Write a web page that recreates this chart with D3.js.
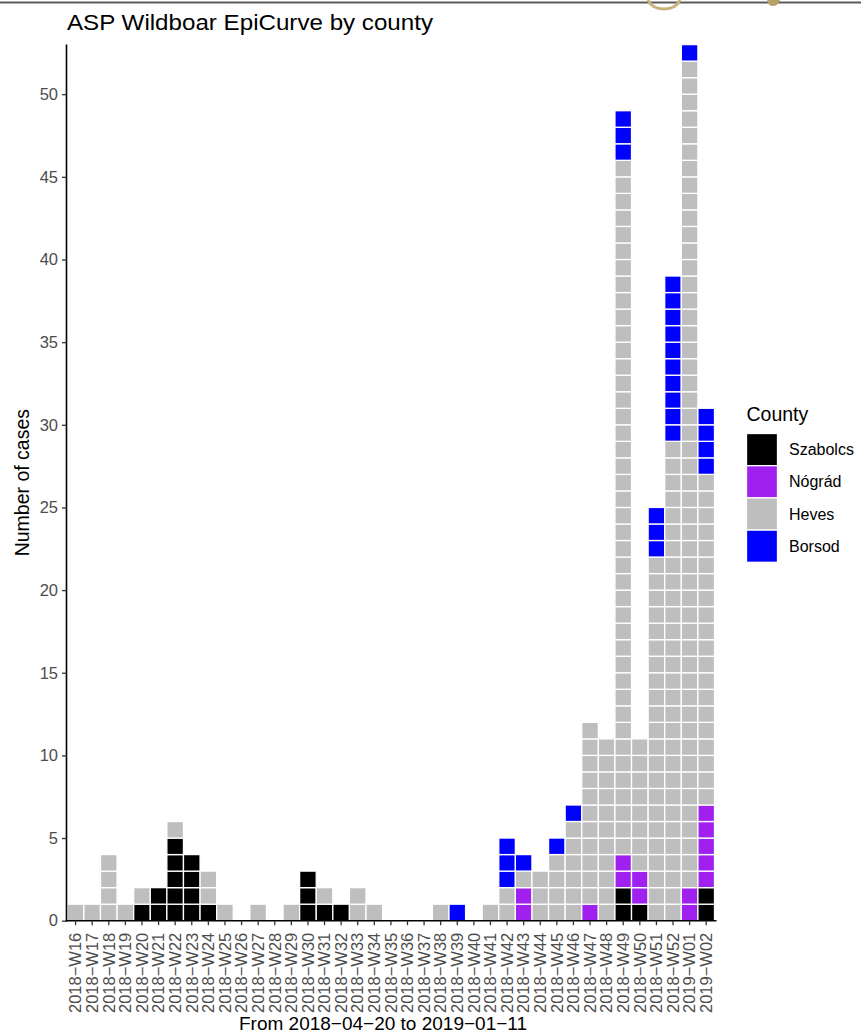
<!DOCTYPE html>
<html>
<head>
<meta charset="utf-8">
<script src="https://cdn.jsdelivr.net/npm/d3@7"></script>
<style>
  html, body { margin: 0; padding: 0; background: #fff; }
  svg { display: block; }
  text { font-family: "Liberation Sans", Arial, Helvetica, sans-serif; }
</style>
</head>
<body>
<svg id="chart" width="861" height="1033"></svg>
<script>
const weeks = ["2018−W16","2018−W17","2018−W18","2018−W19","2018−W20","2018−W21","2018−W22","2018−W23","2018−W24","2018−W25",
  "2018−W26","2018−W27","2018−W28","2018−W29","2018−W30","2018−W31","2018−W32","2018−W33","2018−W34","2018−W35",
  "2018−W36","2018−W37","2018−W38","2018−W39","2018−W40","2018−W41","2018−W42","2018−W43","2018−W44","2018−W45",
  "2018−W46","2018−W47","2018−W48","2018−W49","2018−W50","2018−W51","2018−W52","2019−W01","2019−W02"];

const counties = ["Szabolcs", "Nógrád", "Heves", "Borsod"];
const countyColors = ["#000000", "#A020F0", "#BEBEBE", "#0000FF"];

const szabolcs = [0,0,0,0,1,2,5,4,1,0, 0,0,0,0,3,1,1,0,0,0, 0,0,0,0,0,0,0,0,0,0, 0,0,0,2,1,0,0,0,2];
const nograd   = [0,0,0,0,0,0,0,0,0,0, 0,0,0,0,0,0,0,0,0,0, 0,0,0,0,0,0,0,2,0,0, 0,1,0,2,2,0,0,2,5];
const heves    = [1,1,4,1,1,0,1,0,2,1, 0,1,0,1,0,1,0,2,1,0, 0,0,1,0,0,1,2,1,3,4, 6,11,11,42,8,22,29,50,20];
const borsod   = [0,0,0,0,0,0,0,0,0,0, 0,0,0,0,0,0,0,0,0,0, 0,0,0,1,0,0,3,1,0,1, 1,0,0,3,0,3,10,1,4];

const yTicks = [0,5,10,15,20,25,30,35,40,45,50];

const title = "ASP Wildboar EpiCurve by county";
const xTitle = "From 2018−04−20 to 2019−01−11";
const yTitle = "Number of cases";
const legendTitle = "County";

const seriesValues = [szabolcs, nograd, heves, borsod];

const svg = d3.select("#chart");

// screenshot decoration at top
svg.append("line").attr("x1", 0).attr("x2", 861).attr("y1", 2.5).attr("y2", 2.5)
  .attr("stroke", "#5a5a5a").attr("stroke-width", 2);
svg.append("path").attr("d", "M648,0 Q652,9 664,9 Q676,9 680,0")
  .attr("fill", "none").attr("stroke", "#c8b27a").attr("stroke-width", 3);
svg.append("path").attr("d", "M767,0 Q768,6 773,6 Q778,6 780,0 Z")
  .attr("fill", "#b8a068");

const margin = { left: 66.5, right: 714.5, top: 44.6, bottom: 920.7 };

const x = d3.scaleBand().domain(weeks).range([margin.left + 0.8, margin.right]).padding(0);
const y = d3.scaleLinear().domain([0, 53]).range([margin.bottom, margin.top]);

// build tiles
const tiles = [];
weeks.forEach((w, i) => {
  let cum = 0;
  seriesValues.forEach((vals, s) => {
    for (let k = 0; k < vals[i]; k++) {
      tiles.push({ week: w, county: counties[s], color: countyColors[s], y0: cum, y1: cum + 1 });
      cum += 1;
    }
  });
});

svg.append("g").selectAll("rect").data(tiles).join("rect")
  .attr("x", d => x(d.week))
  .attr("width", x.bandwidth())
  .attr("y", d => y(d.y1))
  .attr("height", d => y(d.y0) - y(d.y1))
  .attr("fill", d => d.color)
  .attr("stroke", "#ffffff")
  .attr("stroke-width", 1.3);

// y axis
const yAxis = svg.append("g").attr("transform", `translate(${margin.left},0)`)
  .call(d3.axisLeft(y).tickValues(yTicks).tickSize(4.5).tickPadding(4));
yAxis.select(".domain").attr("stroke", "#000").attr("stroke-width", 1.6)
  .attr("d", `M0,${margin.bottom + 0.8}V${margin.top}`);
yAxis.selectAll(".tick line").attr("stroke", "#333").attr("stroke-width", 1.3);
yAxis.selectAll(".tick text").attr("fill", "#4D4D4D").style("font-size", "16.5px")
  .style("font-family", "'Liberation Sans', Arial, sans-serif");

// x axis
const xAxis = svg.append("g").attr("transform", `translate(0,${margin.bottom})`)
  .call(d3.axisBottom(x).tickSize(4.5).tickPadding(0));
xAxis.select(".domain").attr("stroke", "#000").attr("stroke-width", 1.6)
  .attr("d", `M${margin.left - 0.8},0H${margin.right + 2}`);
xAxis.selectAll(".tick line").attr("stroke", "#333").attr("stroke-width", 1.3);
xAxis.selectAll(".tick text")
  .attr("fill", "#4D4D4D")
  .style("font-size", "16.5px")
  .style("font-family", "'Liberation Sans', Arial, sans-serif")
  .attr("text-anchor", "end")
  .attr("dy", "0.35em")
  .attr("y", 0)
  .attr("transform", "translate(0,12) rotate(-90)");

// titles
svg.append("text").attr("x", 67).attr("y", 29.5).text(title)
  .attr("textLength", 366).attr("lengthAdjust", "spacingAndGlyphs")
  .style("font-size", "22px").attr("fill", "#000");
svg.append("text").attr("x", 383).attr("y", 1029.5)
  .attr("text-anchor", "middle").text(xTitle).style("font-size", "19px").attr("fill", "#000");
svg.append("text").attr("transform", `translate(29,${(margin.top + margin.bottom) / 2}) rotate(-90)`)
  .attr("text-anchor", "middle").text(yTitle).style("font-size", "19.5px").attr("fill", "#000");

// legend
const lg = svg.append("g").attr("transform", "translate(746.5,0)");
lg.append("text").attr("x", 0).attr("y", 421).text(legendTitle).style("font-size", "19.5px").attr("fill", "#000");
const keyH = 32.2, keyW = 31, keyTop = 433.5;
counties.forEach((c, i) => {
  lg.append("rect").attr("x", 0).attr("y", keyTop + i * keyH).attr("width", keyW).attr("height", keyH)
    .attr("fill", countyColors[i]).attr("stroke", "#fff").attr("stroke-width", 1.3);
  lg.append("text").attr("x", 42.5).attr("y", keyTop + i * keyH + keyH / 2).attr("dy", "0.35em")
    .text(c).style("font-size", "16px").attr("fill", "#000");
});
</script>
</body>
</html>
